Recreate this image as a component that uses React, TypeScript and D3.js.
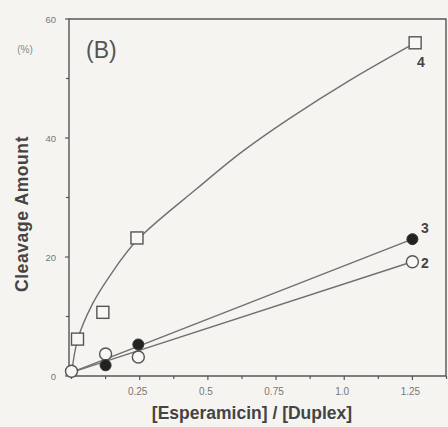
import React from "react";
import * as d3 from "d3";

const xTickValues = [0.25, 0.5, 0.75, 1.0, 1.25];
const xTickLabels = ["0.25", "0.5", "0.75", "1.0", "1.25"];
const xMinorTicks = [0, 0.125, 0.375, 0.625, 0.875, 1.125, 1.375];
const yTickValues = [0, 20, 40, 60];
const yMinorTicks = [10, 30, 50];

// series 2 (open circles), 3 (filled circles), 4 (open squares)
const s2x = [0, 0.125, 0.245, 1.25];
const s2y = [0.8, 3.7, 3.2, 19.2];
const s3x = [0.125, 0.245, 1.25];
const s3y = [1.8, 5.3, 23.0];
const s4x = [0.022, 0.115, 0.24, 1.26];
const s4y = [6.2, 10.7, 23.2, 56.0];

// fitted lines
const fit2x = [0, 1.25];
const fit2y = [0.6, 19.2];
const fit3x = [0, 1.25];
const fit3y = [0.6, 23.0];
const fit4x = [0, 0.023, 0.078, 0.14, 0.24, 0.46, 0.62, 0.8, 1.02, 1.26];
const fit4y = [0.3, 6.2, 12.2, 16.8, 22.8, 31.5, 37.5, 43.3, 49.7, 56.0];

const W = 448;
const H = 427;
const left = 69;
const top = 19;
const right = 446;
const bottom = 376;

export default function App() {
  const x = d3.scaleLinear().domain([0, 1.375]).range([71.5, 446.5]);
  const y = d3.scaleLinear().domain([0, 60]).range([376, 19]);
  const line = d3
    .line<[number, number]>()
    .x((d) => x(d[0]))
    .y((d) => y(d[1]));
  const curve = d3
    .line<[number, number]>()
    .x((d) => x(d[0]))
    .y((d) => y(d[1]))
    .curve(d3.curveCatmullRom.alpha(0.5));
  const zip = (a: number[], b: number[]) => a.map((v, i) => [v, b[i]] as [number, number]);
  const lineColor = "#707070";
  const axisColor = "#555";
  const font = "Liberation Sans, Arial, sans-serif";

  return (
    <svg
      width={W}
      height={H}
      style={{ position: "absolute", left: 0, top: 0, background: "#f6f4f1" }}
      fontFamily={font}
    >
      <rect x={0} y={0} width={W} height={H} fill="#f6f4f1" />
      {/* frame */}
      <path
        d={`M${left},${bottom} L${left},${top} L${right},${top} L${right},${bottom} Z`}
        fill="none"
        stroke={axisColor}
        strokeWidth={1.4}
      />
      {/* y ticks */}
      {yTickValues.map((v) => (
        <g key={"yt" + v}>
          <line x1={left - 4} x2={left} y1={y(v)} y2={y(v)} stroke={axisColor} strokeWidth={1.2} />
          <text x={56} y={y(v) + 3.5} fontSize={9.5} textAnchor="end" fill="#777">
            {v}
          </text>
        </g>
      ))}
      {yMinorTicks.map((v) => (
        <line key={"ym" + v} x1={left - 3} x2={left} y1={y(v)} y2={y(v)} stroke={axisColor} strokeWidth={1.2} />
      ))}
      {/* x ticks */}
      {xTickValues.map((v, i) => (
        <g key={"xt" + v}>
          <line x1={x(v)} x2={x(v)} y1={bottom} y2={bottom + 4} stroke={axisColor} strokeWidth={1.2} />
          <text x={x(v) - 2} y={395} fontSize={10} textAnchor="middle" fill="#777">
            {xTickLabels[i]}
          </text>
        </g>
      ))}
      {xMinorTicks.map((v) => (
        <line key={"xm" + v} x1={x(v)} x2={x(v)} y1={bottom} y2={bottom + 3} stroke={axisColor} strokeWidth={1.2} />
      ))}
      {/* axis titles */}
      <text x={252} y={419} fontSize={17.5} fontWeight="bold" textAnchor="middle" fill="#444">
        [Esperamicin] / [Duplex]
      </text>
      <text
        transform={`translate(28,214) rotate(-90)`}
        fontSize={17.5}
        fontWeight="bold"
        textAnchor="middle"
        fill="#444"
        letterSpacing={0.6}
      >
        Cleavage Amount
      </text>
      <text x={25} y={53} fontSize={10} textAnchor="middle" fill="#888">
        (%)
      </text>
      <text x={86} y={58} fontSize={23} fill="#555">
        (B)
      </text>
      {/* fit lines */}
      <path d={curve(zip(fit4x, fit4y)) || ""} fill="none" stroke={lineColor} strokeWidth={1.4} />
      <path d={line(zip(fit3x, fit3y)) || ""} fill="none" stroke={lineColor} strokeWidth={1.4} />
      <path d={line(zip(fit2x, fit2y)) || ""} fill="none" stroke={lineColor} strokeWidth={1.4} />
      {/* markers */}
      {s4x.map((v, i) => (
        <rect
          key={"s4" + i}
          x={x(v) - 6}
          y={y(s4y[i]) - 6}
          width={12}
          height={12}
          fill="#f8f7f5"
          stroke="#555"
          strokeWidth={1.4}
        />
      ))}
      {s2x.map((v, i) => (
        <circle key={"s2" + i} cx={x(v)} cy={y(s2y[i])} r={6} fill="#f8f7f5" stroke="#555" strokeWidth={1.4} />
      ))}
      {s3x.map((v, i) => (
        <circle key={"s3" + i} cx={x(v)} cy={y(s3y[i])} r={5.5} fill="#222" stroke="#333" strokeWidth={1} />
      ))}
      {/* series labels */}
      <text x={417} y={67} fontSize={14} fontWeight="bold" fill="#444">4</text>
      <text x={421} y={233} fontSize={14} fontWeight="bold" fill="#444">3</text>
      <text x={421} y={268} fontSize={14} fontWeight="bold" fill="#444">2</text>
    </svg>
  );
}
